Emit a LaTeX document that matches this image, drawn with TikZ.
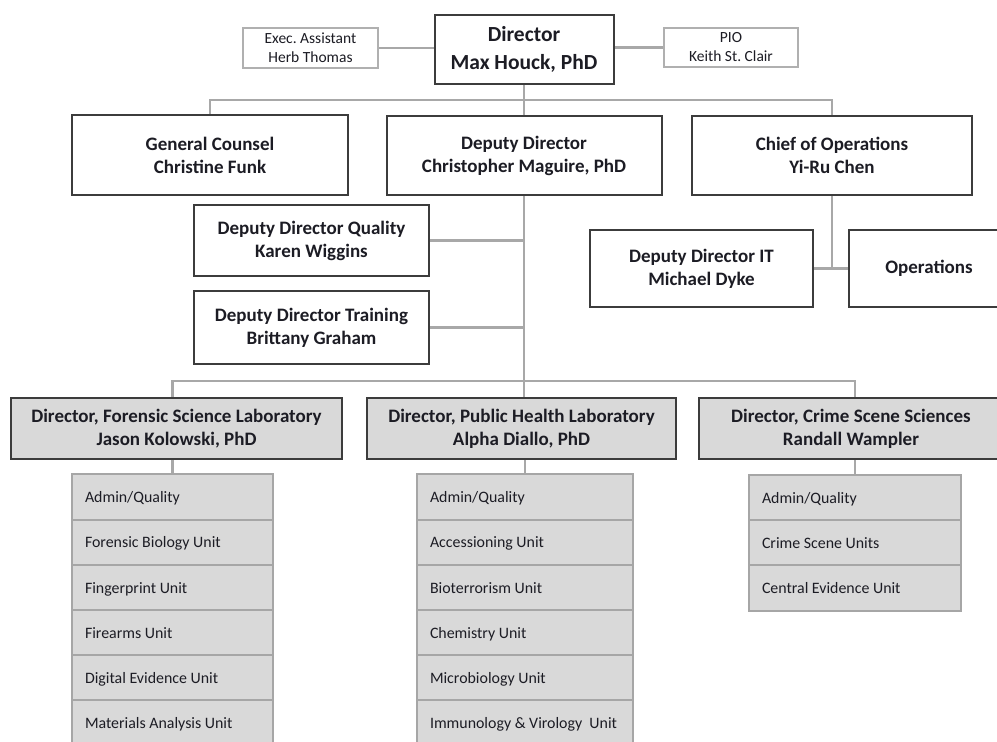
\documentclass[tikz,border=0pt]{standalone}
\usepackage{fontspec}
\setmainfont{Carlito}
\usetikzlibrary{backgrounds}
\frenchspacing
\definecolor{txt}{HTML}{1C1C24}
\definecolor{bord}{HTML}{3C3C3C}
\definecolor{lbord}{HTML}{B0B0B0}
\definecolor{connc}{HTML}{A8A8A8}
\definecolor{gfill}{HTML}{D9D9D9}
\definecolor{ubord}{HTML}{A6A6A6}
\tikzset{
  hbox/.style={draw=bord, line width=2pt, fill=white, inner sep=0pt, align=center, text=txt,
    font=\bfseries\fontsize{19}{23}\selectfont},
  dirbox/.style={hbox, font=\bfseries\fontsize{21.5}{28}\selectfont},
  gbox/.style={hbox, fill=gfill},
  sbox/.style={draw=lbord, line width=1.2pt, fill=white, inner sep=0pt, align=center, text=txt,
    font=\frenchspacing\fontsize{15.5}{19}\selectfont},
  unitbox/.style={draw=ubord, line width=2pt, fill=gfill, inner xsep=13pt, inner ysep=0pt,
    text=txt, font=\fontsize{15.9}{19}\selectfont, minimum height=45.2pt,
    text height=13pt, text depth=1.5pt},
  conn/.style={draw=connc, line width=2.8pt}
}
\begin{document}
\begin{tikzpicture}[x=1pt,y=-1pt]
\useasboundingbox (0,0) rectangle (997,742);
\clip (0,0) rectangle (997,742);
% coordinates of buses
\coordinate (topbus) at (524,100);
\coordinate (botbus) at (524,381);
% top
\node[dirbox, minimum width=179pt, minimum height=69pt] (dir) at (524,49) {Director\\Max Houck, PhD};
\node[sbox, minimum width=135pt, minimum height=40pt] (exec) at (310.5,48) {Exec. Assistant\\Herb Thomas};
\node[sbox, minimum width=134pt, minimum height=39pt] (pio) at (731,47.5) {PIO\\Keith St. Clair};
% second row
\node[hbox, minimum width=276pt, minimum height=80pt] (gc) at (210,155) {General Counsel\\Christine Funk};
\node[hbox, minimum width=275pt, minimum height=79pt] (dd) at (524,155.5) {Deputy Director\\Christopher Maguire, PhD};
\node[hbox, minimum width=280pt, minimum height=79pt] (co) at (832,155.5) {Chief of Operations\\Yi-Ru Chen};
% deputies
\node[hbox, minimum width=235pt, minimum height=71pt] (ddq) at (311.5,240.5) {Deputy Director Quality\\Karen Wiggins};
\node[hbox, minimum width=235pt, minimum height=73pt] (ddt) at (311.5,327.5) {Deputy Director Training\\Brittany Graham};
\node[hbox, minimum width=223pt, minimum height=77pt] (ddit) at (701.5,268.5) {Deputy Director IT\\Michael Dyke};
\node[hbox, minimum width=160pt, minimum height=77pt] (ops) at (929,268.5) {Operations};
% lab directors
\node[gbox, minimum width=331pt, minimum height=61pt] (fsl) at (176.5,428.5) {Director, Forensic Science Laboratory\\Jason Kolowski, PhD};
\node[gbox, minimum width=309pt, minimum height=61pt] (phl) at (521.5,428.5) {Director, Public Health Laboratory\\Alpha Diallo, PhD};
\node[gbox, minimum width=304pt, minimum height=61pt] (css) at (851,428.5) {Director, Crime Scene Sciences\\Randall Wampler};
% units
\foreach \t [count=\i] in {Admin/Quality, Forensic Biology Unit, Fingerprint Unit, Firearms Unit, Digital Evidence Unit, Materials Analysis Unit}
  \node[unitbox] (fsl\i) at (172.5,{497+(\i-1)*45.2}) {\makebox[175pt][l]{\t}};
\foreach \t [count=\i] in {Admin/Quality, Accessioning Unit, Bioterrorism Unit, Chemistry Unit, Microbiology Unit, {Immunology \& Virology\ \ Unit}}
  \node[unitbox] (phl\i) at (525,{497+(\i-1)*45.2}) {\makebox[190pt][l]{\t}};
\foreach \t [count=\i] in {Admin/Quality, Crime Scene Units, Central Evidence Unit}
  \node[unitbox] (css\i) at (855,{497.5+(\i-1)*45.2}) {\makebox[186pt][l]{\t}};
% connectors (behind the boxes)
\begin{scope}[on background layer]
\fill[white] (0,0) rectangle (997,742);
\draw[conn] (exec.east) -- (dir.west |- exec.east);
\draw[conn] (dir.east |- pio.west) -- (pio.west);
\draw[conn] (dir.south) -- (dd.north);
\draw[conn] (gc.north) -- (gc.north |- topbus) -- (co.north |- topbus) -- (co.north);
\draw[conn] (dd.south) -- (phl.north -| dd.south);
\draw[conn] (ddq.east) -- (ddq.east -| dd.south);
\draw[conn] (ddt.east) -- (ddt.east -| dd.south);
\draw[conn] (co.south) -- (co.south |- ddit.east);
\draw[conn] (ddit.east) -- (ops.west);
\draw[conn] (fsl.north -| fsl1.north) -- (fsl1.north |- botbus) -- (css1.north |- botbus) -- (css.north -| css1.north);
\draw[conn] (fsl1.north) -- (fsl1.north |- fsl.south);
\draw[conn] (phl1.north) -- (phl1.north |- phl.south);
\draw[conn] (css1.north) -- (css1.north |- css.south);
\end{scope}
\end{tikzpicture}
\end{document}
